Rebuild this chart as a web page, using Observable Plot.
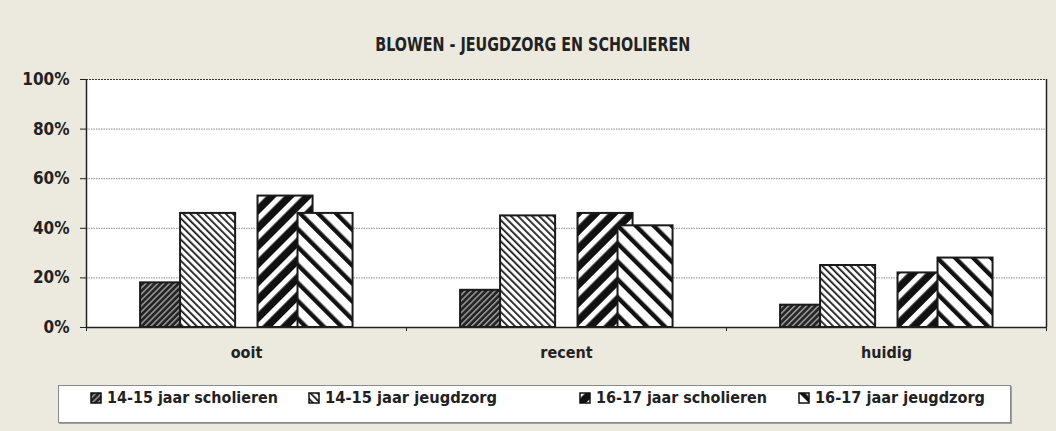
<!DOCTYPE html>
<html>
<head>
<meta charset="utf-8">
<script src="https://cdn.jsdelivr.net/npm/d3@7"></script>
<script src="https://cdn.jsdelivr.net/npm/@observablehq/plot@0.6"></script>
<style>
  html, body { margin: 0; padding: 0; background: #ECE9DF; }
  #root { position: relative; width: 1056px; height: 431px; background: #ECE9DF; overflow: hidden;
          font-family: "DejaVu Sans Condensed", "DejaVu Sans", sans-serif; font-stretch: condensed; font-weight: bold; color: #222; }
  #title { position: absolute; left: 0; width: 1066px; top: 35px; text-align: center; font-size: 19px; line-height: 19px; white-space: nowrap; }
  #title span { display: inline-block; transform-origin: center; }
  #chart { position: absolute; left: 0; top: 60px; }
  #legend { position: absolute; left: 58px; top: 385px; width: 953px; height: 38px; box-sizing: border-box;
            background: #fff; border: 1px solid #8a8a8a; box-shadow: 1px 1px 0 #a0a0a0; }
  .item { position: absolute; top: 3.5px; white-space: nowrap; font-size: 16px; line-height: 16px; }
  .item svg { position: absolute; left: 0; top: 2.5px; }
  .item span { position: absolute; left: 17px; top: 0; display: inline-block; transform-origin: left center; }
</style>
</head>
<body>
<div id="root">
  <div id="title"><span>BLOWEN - JEUGDZORG EN SCHOLIEREN</span></div>
  <div id="chart"></div>
  <div id="legend"></div>
</div>
<script>
// ---- data ----
const categories = ["ooit", "recent", "huidig"];
const series = ["14-15 jaar scholieren", "14-15 jaar jeugdzorg", "16-17 jaar scholieren", "16-17 jaar jeugdzorg"];
const scholieren1415 = [18, 15, 9];
const jeugdzorg1415 = [46, 45, 25];
const scholieren1617 = [53, 46, 22];
const jeugdzorg1617 = [46, 41, 28];
const yTicks = [0, 20, 40, 60, 80, 100];

// ---- layout ----
const seriesValues = [scholieren1415, jeugdzorg1415, scholieren1617, jeugdzorg1617];
const offsets = [-0.245, -0.120, 0.122, 0.247];
const barW = 0.172;
const patternIds = ["p1", "p2", "p3", "p4"];

const data = categories.flatMap((c, ci) =>
  series.map((s, si) => ({cat: c, ci, series: s, si, value: seriesValues[si][ci]}))
);

function defsMark() {
  const defs = d3.create("svg:defs");
  function stripes(id, period, stripeW, bg, fg, angle) {
    const p = defs.append("pattern")
      .attr("id", id).attr("patternUnits", "userSpaceOnUse")
      .attr("width", period).attr("height", period)
      .attr("patternTransform", `rotate(${angle})`);
    p.append("rect").attr("width", period).attr("height", period).attr("fill", bg);
    p.append("rect").attr("width", stripeW).attr("height", period).attr("fill", fg);
  }
  stripes("p1", 4.2, 1.5, "#242424", "#9a9a9a", 45);
  stripes("p2", 5.0, 1.7, "#ffffff", "#111111", -45);
  stripes("p3", 12.7, 5.2, "#111111", "#ffffff", 45);
  stripes("p4", 12.7, 4.4, "#ffffff", "#111111", -45);
  return defs.node();
}

const chart = Plot.plot({
  width: 1056,
  height: 310,
  marginTop: 19,
  marginBottom: 43,
  marginLeft: 86,
  marginRight: 10,
  style: {background: "transparent", fontFamily: "'DejaVu Sans Condensed', 'DejaVu Sans', sans-serif", fontWeight: "bold", color: "#222"},
  x: {domain: [0, 3]},
  y: {domain: [0, 100]},
  color: {type: "ordinal", domain: series, range: patternIds.map(id => `url(#${id})`)},
  marks: [
    defsMark,
    Plot.frame({fill: "white", stroke: "none"}),
    Plot.ruleY([20, 40, 60, 80], {stroke: "#888", strokeWidth: 1, strokeDasharray: "1.5,1"}),
    Plot.ruleY([100], {stroke: "#333", strokeWidth: 1.2, strokeDasharray: "2,1"}),
    Plot.rect(data, {
      x1: d => d.ci + 0.5 + offsets[d.si] - barW / 2,
      x2: d => d.ci + 0.5 + offsets[d.si] + barW / 2,
      y1: 0,
      y2: "value",
      fill: "series",
      stroke: "#1a1a1a",
      strokeWidth: 2
    }),
    Plot.ruleY([0], {stroke: "#222", strokeWidth: 1.5}),
    Plot.ruleX([0, 3], {y1: 0, y2: 100, stroke: "#222", strokeWidth: 1.5}),
    Plot.axisY({ticks: yTicks, tickSize: 6, tickPadding: 11, tickFormat: d => d + "%", fontSize: 17, stroke: "#222", label: null}),
    Plot.axisX({ticks: [0, 1, 2, 3], tickSize: 4, tickFormat: () => "", stroke: "#222", label: null}),
    Plot.axisX({ticks: categories.map((_, i) => i + 0.5), tickSize: 0, tickPadding: 19, tickFormat: d => categories[Math.floor(d)], fontSize: 16, label: null})
  ]
});
document.getElementById("chart").appendChild(chart);

// ---- legend ----
const legendX = [90, 308, 579, 798];
const legend = document.getElementById("legend");
series.forEach((s, i) => {
  const item = document.createElement("div");
  item.className = "item";
  item.style.left = (legendX[i] - 59) + "px";
  item.innerHTML = `<svg width="12" height="12"><rect x="1" y="1" width="10" height="10" fill="url(#${patternIds[i]})" stroke="#111" stroke-width="1.5"/></svg><span>${s}</span>`;
  legend.appendChild(item);
});

// fit text widths to the reference's condensed face
function fit(el, target) {
  const w = el.getBoundingClientRect().width;
  if (w > 0) el.style.transform = `scaleX(${target / w})`;
}
fit(document.querySelector("#title span"), 315);
const legendTargets = [171, 172, 171, 170];
document.querySelectorAll(".item span").forEach((el, i) => fit(el, legendTargets[i]));
</script>
</body>
</html>
